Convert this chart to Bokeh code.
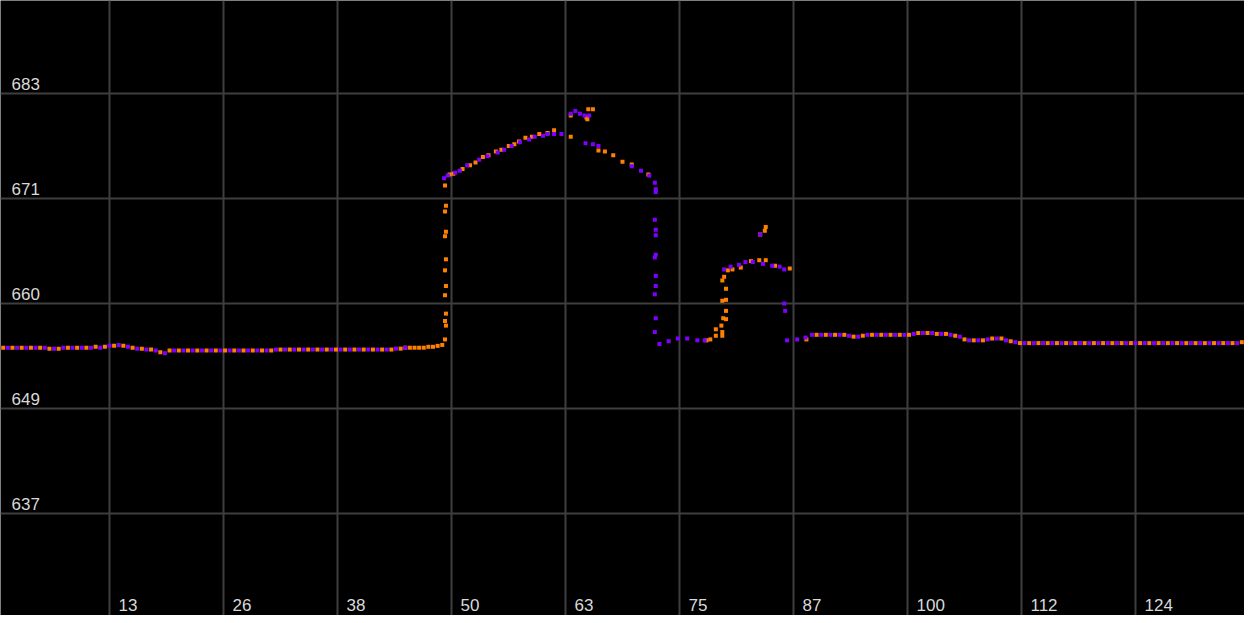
from bokeh.plotting import figure
from bokeh.models import Grid, FixedTicker, Range1d, Label
from bokeh.embed import file_html
from bokeh.resources import INLINE

# ---- tick positions and labels ----
x_ticks = [13, 25.333, 37.667, 50, 62.333, 74.667, 87, 99.333, 111.667, 124]
x_labels = ["13", "26", "38", "50", "63", "75", "87", "100", "112", "124"]
y_ticks = [636.7, 648.1, 659.5, 670.9, 682.3]
y_labels = ["637", "649", "660", "671", "683"]

# ---- orange series ----
orange_ground_left_x = [1.5, 2.5, 3.5, 4.5, 5.5, 6.5, 7.5, 8.5, 9.5, 10.5,
                        11.5, 12.5, 13.5, 14.5, 15.5, 16.5, 17.5, 18.5, 19.5, 20.5,
                        21.5, 22.5, 23.5, 24.5, 25.5, 26.5, 27.5, 28.5, 29.5, 30.5,
                        31.5, 32.5, 33.5, 34.5, 35.5, 36.5, 37.5, 38.5, 39.5, 40.5,
                        41.5, 42.5, 43.5, 44.5,
                        45.0, 45.5, 46.0, 46.5, 47.0, 47.5, 48.0, 48.5, 49.0]
orange_ground_left_y = [654.7, 654.7, 654.7, 654.7, 654.7, 654.6, 654.6, 654.7, 654.7, 654.7,
                        654.8, 654.8, 654.9, 654.9, 654.7, 654.6, 654.5, 654.2, 654.4, 654.4,
                        654.4, 654.4, 654.4, 654.4, 654.4, 654.4, 654.4, 654.4, 654.4, 654.4,
                        654.5, 654.5, 654.5, 654.5, 654.5, 654.5, 654.5, 654.5, 654.5, 654.5,
                        654.5, 654.5, 654.5, 654.6,
                        654.7, 654.7, 654.7, 654.7, 654.7, 654.8, 654.8, 654.9, 655.0]
orange_wall_x = [49.3, 49.4, 49.3, 49.4, 49.3, 49.4, 49.3, 49.4, 49.3, 49.4, 49.3, 49.4, 49.3]
orange_wall_y = [655.6, 657.1, 657.6, 658.4, 660.4, 661.4, 663.1, 664.3, 666.8, 667.3, 669.5, 670.1, 672.3]
orange_roof_x = [49.8, 50.2, 51.2, 52.0, 52.6, 53.4, 54.0, 54.8, 55.4, 56.2,
                 56.8, 57.3, 58.0, 58.7, 59.5, 60.4, 61.1, 62.9, 62.9, 64.6,
                 64.7, 64.8, 65.3, 65.9, 66.6, 67.5, 68.5, 69.5, 71.3]
orange_roof_y = [673.5, 673.6, 674.1, 674.5, 674.8, 675.4, 675.6, 676.0, 676.2, 676.6,
                 676.8, 677.1, 677.5, 677.6, 677.9, 678.0, 678.3, 677.6, 679.9, 679.7,
                 679.5, 680.6, 680.6, 676.1, 676.0, 675.6, 674.9, 674.6, 673.5]
orange_bump_x = [77.6, 78.0, 78.6, 78.6, 79.3, 79.3, 79.2, 79.7, 79.4, 79.7,
                 79.3, 79.7, 79.7, 79.3, 79.5, 79.9, 80.4, 81.3, 82.4, 83.3,
                 84.0, 85.0, 86.6, 83.4, 83.9, 84.0]
orange_bump_y = [655.5, 655.6, 656.0, 656.7, 656.0, 656.4, 657.1, 657.8, 657.9, 658.7,
                 659.8, 659.9, 661.1, 662.0, 662.4, 663.1, 663.2, 663.4, 664.1, 664.2,
                 664.2, 663.6, 663.3, 667.0, 667.4, 667.8]
orange_ground_right_x = [88.4, 89.5, 90.5, 91.5, 92.5, 93.5, 94.5, 95.5, 96.5, 97.5,
                         98.5, 99.5, 100.5, 101.5, 102.5, 103.5, 104.5, 105.5, 106.5, 107.5,
                         108.5, 109.5, 110.5, 111.5, 112.5, 113.5, 114.5, 115.5, 116.5, 117.5,
                         118.5, 119.5, 120.5, 121.5, 122.5, 123.5, 124.5, 125.5, 126.5, 127.5,
                         128.5, 129.5, 130.5, 131.5, 132.5, 133.5, 134.5, 135.5]
orange_ground_right_y = [655.6, 656.1, 656.1, 656.1, 656.1, 655.9, 656.0, 656.1, 656.1, 656.1,
                         656.1, 656.1, 656.3, 656.3, 656.2, 656.2, 656.0, 655.6, 655.5, 655.5,
                         655.7, 655.7, 655.4, 655.2, 655.2, 655.2, 655.2, 655.2, 655.2, 655.2,
                         655.2, 655.2, 655.2, 655.2, 655.2, 655.2, 655.2, 655.2, 655.2, 655.2,
                         655.2, 655.2, 655.2, 655.2, 655.2, 655.2, 655.2, 655.3]

# ---- purple series ----
purple_ground_left_x = [1.0, 2.0, 3.0, 4.0, 5.0, 6.0, 7.0, 8.0, 9.0, 10.0,
                        11.0, 12.0, 13.0, 14.0, 15.0, 16.0, 17.0, 18.0, 19.0, 20.0,
                        21.0, 22.0, 23.0, 24.0, 25.0, 26.0, 27.0, 28.0, 29.0, 30.0,
                        31.0, 32.0, 33.0, 34.0, 35.0, 36.0, 37.0, 38.0, 39.0, 40.0,
                        41.0, 42.0, 43.0, 44.0, 45.0]
purple_ground_left_y = [654.7, 654.7, 654.7, 654.7, 654.7, 654.7, 654.6, 654.7, 654.7, 654.7,
                        654.7, 654.7, 654.9, 655.0, 654.8, 654.6, 654.5, 654.4, 654.1, 654.4,
                        654.4, 654.4, 654.4, 654.4, 654.4, 654.4, 654.4, 654.4, 654.4, 654.4,
                        654.5, 654.5, 654.5, 654.5, 654.5, 654.5, 654.5, 654.5, 654.5, 654.5,
                        654.5, 654.5, 654.5, 654.6, 654.7]
purple_roof_x = [49.2, 49.6, 50.4, 50.9, 51.7, 53.0, 53.9, 55.0, 55.7, 56.5,
                 57.4, 58.4, 59.0, 59.9, 60.4, 61.1, 61.9, 62.9, 63.4, 63.9,
                 64.4, 64.9, 64.5, 65.3, 65.9, 69.5, 70.5, 71.4, 72.0, 72.1,
                 72.1]
purple_roof_y = [673.1, 673.4, 673.7, 673.9, 674.5, 675.1, 675.5, 675.9, 676.2, 676.6,
                 677.0, 677.3, 677.6, 677.7, 677.9, 677.9, 677.9, 680.1, 680.4, 680.1,
                 679.9, 679.9, 676.9, 676.8, 676.6, 674.4, 673.9, 673.4, 672.6, 671.9,
                 671.6]
purple_wall_x = [72.0, 72.1, 72.1, 72.1, 72.0, 72.1, 72.1, 72.0, 72.1, 72.0,
                 72.5, 73.5, 74.5, 75.5, 76.6, 77.4]
purple_wall_y = [668.6, 667.5, 666.9, 664.8, 664.5, 662.5, 661.4, 660.5, 657.9, 656.4,
                 655.1, 655.4, 655.7, 655.7, 655.5, 655.5]
purple_bump_x = [79.5, 80.2, 81.1, 81.8, 82.6, 83.7, 84.7, 85.5, 86.0, 83.4, 86.0, 86.1]
purple_bump_y = [663.2, 663.5, 663.7, 664.0, 664.0, 663.8, 663.6, 663.5, 663.2, 667.0, 659.5, 658.7]
purple_ground_right_x = [86.3, 87.4, 88.3, 89.0, 90.0, 91.0, 92.0, 93.0, 94.0, 95.0,
                         96.0, 97.0, 98.0, 99.0, 100.0, 101.0, 102.0, 103.0, 104.0, 105.0,
                         106.0, 107.0, 108.0, 109.0, 110.0, 111.0, 112.0, 113.0, 114.0, 115.0,
                         116.0, 117.0, 118.0, 119.0, 120.0, 121.0, 122.0, 123.0, 124.0, 125.0,
                         126.0, 127.0, 128.0, 129.0, 130.0, 131.0, 132.0, 133.0, 134.0, 135.0]
purple_ground_right_y = [655.5, 655.6, 655.8, 656.1, 656.1, 656.1, 656.1, 656.0, 655.9, 656.1,
                         656.1, 656.1, 656.1, 656.1, 656.2, 656.3, 656.3, 656.2, 656.1, 655.9,
                         655.5, 655.5, 655.6, 655.7, 655.5, 655.3, 655.2, 655.2, 655.2, 655.2,
                         655.2, 655.2, 655.2, 655.2, 655.2, 655.2, 655.2, 655.2, 655.2, 655.2,
                         655.2, 655.2, 655.2, 655.2, 655.2, 655.2, 655.2, 655.2, 655.2, 655.2]

orange_x = orange_ground_left_x + orange_wall_x + orange_roof_x + orange_bump_x + orange_ground_right_x
orange_y = orange_ground_left_y + orange_wall_y + orange_roof_y + orange_bump_y + orange_ground_right_y
purple_x = purple_ground_left_x + purple_roof_x + purple_wall_x + purple_bump_x + purple_ground_right_x
purple_y = purple_ground_left_y + purple_roof_y + purple_wall_y + purple_bump_y + purple_ground_right_y
assert len(orange_x) == len(orange_y), (len(orange_x), len(orange_y))
assert len(purple_x) == len(purple_y), (len(purple_x), len(purple_y))

p = figure(width=1244, height=615, output_backend="svg", toolbar_location=None,
           x_range=Range1d(1.208, 135.796), y_range=Range1d(625.627, 692.397),
           x_axis_type=None, y_axis_type=None, min_border=0,
           background_fill_color="black", border_fill_color="black",
           outline_line_color=None)

p.add_layout(Grid(dimension=0, ticker=FixedTicker(ticks=x_ticks),
                  grid_line_color="#3e3e3e", grid_line_width=2))
p.add_layout(Grid(dimension=1, ticker=FixedTicker(ticks=y_ticks),
                  grid_line_color="#3e3e3e", grid_line_width=2))

p.scatter(orange_x, orange_y, marker="square", size=4,
          fill_color="#ff8000", line_color=None)
p.scatter(purple_x, purple_y, marker="square", size=4,
          fill_color="#8000ff", line_color=None)

for v, t in zip(y_ticks, y_labels):
    p.add_layout(Label(x=11, y=v, x_units="screen", y_units="data", text=t,
                       y_offset=10, text_font="Liberation Sans", text_font_size="17px",
                       text_color="#d9d9d9", text_baseline="middle", text_align="left"))
for v, t in zip(x_ticks, x_labels):
    p.add_layout(Label(x=v, y=11, x_units="data", y_units="screen", text=t,
                       x_offset=9, text_font="Liberation Sans", text_font_size="17px",
                       text_color="#d9d9d9", text_baseline="middle", text_align="left"))

open("out.html", "w").write(file_html(p, INLINE))
